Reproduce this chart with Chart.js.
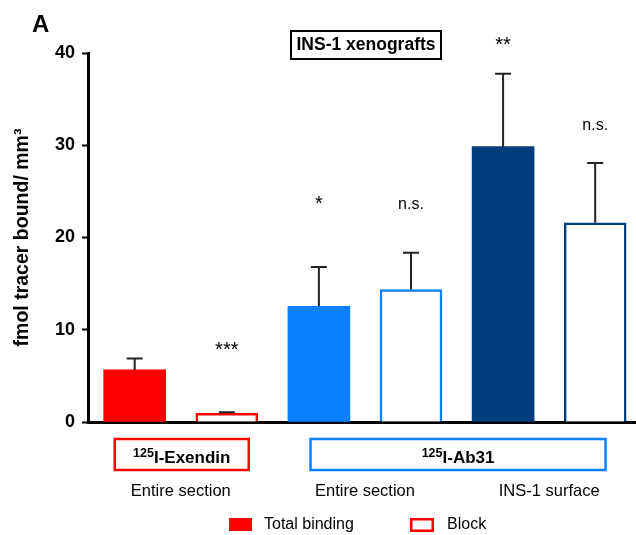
<!DOCTYPE html>
<html lang="en">
<head>
    <meta charset="UTF-8">
    <title>INS-1 xenografts</title>
    <script src="https://cdn.jsdelivr.net/npm/chart.js"></script>
    <style>
        body { margin: 0; background: #fff; }
    </style>
</head>
<body>
    <canvas id="chart" width="636" height="535"></canvas>

    <script>
        // donnees
        const tracers = ['125I-Exendin', '125I-Ab31'];
        const regions = ['Entire section', 'Entire section', 'INS-1 surface'];
        const conditions = ['Total binding', 'Block'];
        const totalBinding = [5.65, 12.55, 29.85];
        const totalSem = [1.22, 4.25, 7.9];
        const blockBinding = [0.95, 14.35, 21.6];
        const blockSem = [0.1, 4.0, 6.47];
        const significance = ['', '***', '*', 'n.s.', '**', 'n.s.'];
        const yTicks = [0, 10, 20, 30, 40];

        const colours = ['#ff0000', '#0a80ff', '#003d7c'];
        const FONT = "'Liberation Sans', Arial, sans-serif";

        // hauteur des etoiles au-dessus des barres d'erreur (px)
        const sigOffsets = [0, 56, 57, 44, 23, 33];

        const errorBars = {
            id: 'errorBars',
            afterDatasetsDraw(chart) {
                const ctx = chart.ctx;
                const y = chart.scales.y;
                ctx.save();
                ctx.strokeStyle = '#222';
                ctx.lineWidth = 2;
                chart.data.datasets.forEach((ds, di) => {
                    chart.getDatasetMeta(di).data.forEach((bar, i) => {
                        const top = y.getPixelForValue(ds.data[i].y + ds.sem[i]);
                        ctx.beginPath();
                        ctx.moveTo(bar.x, bar.y);
                        ctx.lineTo(bar.x, top);
                        ctx.moveTo(bar.x - 8, top);
                        ctx.lineTo(bar.x + 8, top);
                        ctx.stroke();
                    });
                });
                ctx.restore();
            }
        };

        function superLabel(ctx, sup, main, cx, baseline) {
            ctx.font = 'bold 12.5px ' + FONT;
            const w1 = ctx.measureText(sup).width;
            ctx.font = 'bold 17px ' + FONT;
            const w2 = ctx.measureText(main).width;
            const x0 = cx - (w1 + w2) / 2;
            ctx.textAlign = 'left';
            ctx.textBaseline = 'alphabetic';
            ctx.font = 'bold 12.5px ' + FONT;
            ctx.fillText(sup, x0, baseline - 6);
            ctx.font = 'bold 17px ' + FONT;
            ctx.fillText(main, x0 + w1, baseline);
        }

        const annotations = {
            id: 'annotations',
            afterDraw(chart) {
                const ctx = chart.ctx;
                const x = chart.scales.x;
                const y = chart.scales.y;
                ctx.save();
                ctx.fillStyle = '#000';

                // lettre du panneau
                ctx.font = 'bold 24px ' + FONT;
                ctx.textAlign = 'left';
                ctx.textBaseline = 'alphabetic';
                ctx.fillText('A', 32, 32);

                // titre encadre
                ctx.font = 'bold 17.5px ' + FONT;
                ctx.textAlign = 'center';
                ctx.textBaseline = 'middle';
                ctx.fillText('INS-1 xenografts', 366, 45);
                ctx.lineWidth = 2;
                ctx.strokeStyle = '#000';
                ctx.strokeRect(291, 31, 150, 28);

                // significativite
                const all = [];
                totalBinding.forEach((v, i) => {
                    all[2 * i] = v + totalSem[i];
                    all[2 * i + 1] = blockBinding[i] + blockSem[i];
                });
                ctx.textBaseline = 'alphabetic';
                significance.forEach((s, i) => {
                    if (!s) return;
                    ctx.font = (s.includes('*') ? '20px ' : '16px ') + FONT;
                    const py = y.getPixelForValue(all[i]) - sigOffsets[i];
                    ctx.fillText(s, x.getPixelForValue(i), py);
                });

                // boites des traceurs
                const boxes = [
                    { sup: '125', main: 'I-Exendin', from: 0, to: 1, w: 134, col: colours[0] },
                    { sup: '125', main: 'I-Ab31', from: 2, to: 5, w: 295, col: colours[1] }
                ];
                boxes.forEach((b, i) => {
                    const cx = (x.getPixelForValue(b.from) + x.getPixelForValue(b.to)) / 2 + 1;
                    ctx.strokeStyle = b.col;
                    ctx.lineWidth = 2.5;
                    ctx.strokeRect(cx - b.w / 2, 439, b.w, 31);
                    ctx.fillStyle = '#000';
                    superLabel(ctx, b.sup, tracers[i].replace(b.sup, ''), cx, 462.5);
                });

                // regions
                ctx.font = '16.5px ' + FONT;
                ctx.textAlign = 'center';
                ctx.textBaseline = 'middle';
                regions.forEach((r, i) => {
                    const cx = (x.getPixelForValue(2 * i) + x.getPixelForValue(2 * i + 1)) / 2;
                    ctx.fillText(r, cx, 491);
                });

                // legende
                ctx.fillStyle = colours[0];
                ctx.fillRect(229, 518, 23, 13);
                ctx.strokeStyle = colours[0];
                ctx.lineWidth = 2.5;
                ctx.strokeRect(411.25, 519.25, 21.5, 11.5);
                ctx.fillStyle = '#000';
                ctx.font = '16px ' + FONT;
                ctx.textAlign = 'left';
                ctx.fillText(conditions[0], 264, 525);
                ctx.fillText(conditions[1], 447, 525);

                ctx.restore();
            }
        };

        const ctx = document.getElementById('chart').getContext('2d');
        const chart = new Chart(ctx, {
            type: 'bar',
            data: {
                datasets: [{
                    label: conditions[0],
                    data: totalBinding.map((v, i) => ({ x: 2 * i, y: v })),
                    sem: totalSem,
                    backgroundColor: colours,
                    borderWidth: 0
                }, {
                    label: conditions[1],
                    data: blockBinding.map((v, i) => ({ x: 2 * i + 1, y: v })),
                    sem: blockSem,
                    backgroundColor: '#ffffff',
                    borderColor: colours,
                    borderWidth: 2.5
                }]
            },
            options: {
                responsive: false,
                animation: false,
                grouped: false,
                barThickness: 62,
                layout: { padding: { top: 53, right: 0, bottom: 113, left: 0 } },
                plugins: {
                    legend: { display: false },
                    tooltip: { enabled: false }
                },
                scales: {
                    x: {
                        type: 'linear',
                        offset: false,
                        min: -0.507,
                        max: 5.443,
                        ticks: { display: false },
                        grid: { display: false, drawTicks: false },
                        border: { display: true, width: 3, color: '#000' }
                    },
                    y: {
                        min: 0,
                        max: 40,
                        afterFit(scale) { scale.width = 88; },
                        afterBuildTicks(scale) { scale.ticks = yTicks.map(v => ({ value: v })); },
                        ticks: {
                            color: '#000',
                            padding: 7,
                            font: { family: FONT, size: 18, weight: 'bold' }
                        },
                        grid: {
                            drawOnChartArea: false,
                            tickLength: 6,
                            tickWidth: 2,
                            tickColor: '#000'
                        },
                        border: { display: true, width: 3, color: '#000' },
                        title: {
                            display: true,
                            text: 'fmol tracer bound/ mm³',
                            color: '#000',
                            padding: { top: 11 },
                            font: { family: FONT, size: 19.5, weight: 'bold' }
                        }
                    }
                }
            },
            plugins: [errorBars, annotations]
        });
    </script>
</body>
</html>
